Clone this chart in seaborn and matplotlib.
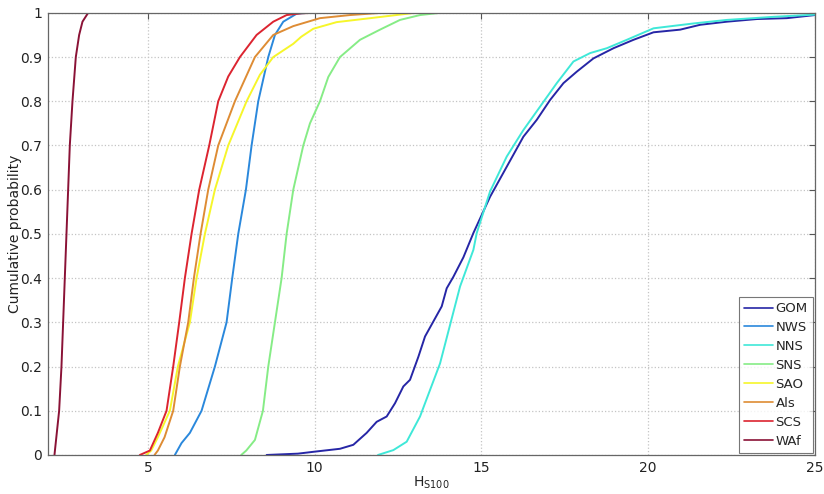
import numpy as np
import pandas as pd
import matplotlib
matplotlib.use("Agg")
import matplotlib.pyplot as plt
import seaborn as sns

regions = ["GOM", "NWS", "NNS", "SNS", "SAO", "Als", "SCS", "WAf"]
colors = ["#2626a6", "#2a88dc", "#3fe8d8", "#86ec86", "#f6f62a", "#de8c34", "#dc2430", "#8a1236"]

gom_x = [8.56, 9.5, 10.0, 10.76, 11.16, 11.56, 11.86, 12.16, 12.41, 12.66, 12.86, 13.11, 13.31, 13.56,
         13.81, 13.96, 14.16, 14.46, 14.76, 15.26, 15.76, 16.26, 16.66, 17.06, 17.46, 17.86, 18.36,
         18.96, 19.56, 20.16, 20.96, 21.56, 22.36, 23.26, 24.16, 25.0]
gom_p = [0, .003, .0075, .014, .023, .05, .075, .087, .117, .155, .17, .222, .268, .302, .336, .377,
         .403, .447, .502, .584, .652, .72, .758, .803, .841, .867, .897, .92, .939, .956, .962, .973,
         .98, .986, .988, .995]

nws_x = [5.81, 6.01, 6.26, 6.61, 7.01, 7.36, 7.53, 7.71, 7.94, 8.11, 8.31, 8.61, 8.81, 9.06, 9.46, 9.8]
nws_p = [0, .027, .05, .1, .2, .3, .4, .5, .6, .7, .8, .9, .95, .98, .998, 1]

nns_x = [11.9, 12.36, 12.76, 13.16, 13.46, 13.76, 14.06, 14.36, 14.76, 14.86, 15.26, 15.76, 16.26,
         16.76, 17.26, 17.76, 18.26, 18.76, 19.36, 20.16, 21.36, 22.36, 23.76, 25.0]
nns_p = [0, .011, .03, .087, .147, .207, .294, .381, .464, .502, .596, .675, .735, .788, .841, .890,
         .909, .920, .939, .965, .976, .984, .991, .996]

sns_x = [7.80, 7.95, 8.21, 8.45, 8.61, 8.81, 9.01, 9.16, 9.36, 9.66, 9.86, 10.16, 10.41, 10.76, 11.36,
         11.96, 12.56, 13.16, 13.76]
sns_p = [0, .01, .034, .1, .2, .3, .4, .5, .6, .7, .75, .8, .855, .9, .939, .962, .984, .995, 1]

sao_x = [4.95, 5.1, 5.3, 5.66, 5.90, 6.26, 6.46, 6.71, 7.01, 7.41, 7.96, 8.36, 8.76, 9.36, 9.6, 9.96,
         10.66, 11.56, 13.0]
sao_p = [0, .01, .04, .1, .2, .3, .4, .5, .6, .7, .8, .86, .9, .93, .946, .964, .979, .987, 1]

als_x = [5.2, 5.3, 5.5, 5.76, 5.96, 6.21, 6.38, 6.58, 6.81, 7.11, 7.61, 8.21, 8.76, 9.36, 10.16, 11.06, 12.0]
als_p = [0, .01, .04, .1, .2, .3, .4, .5, .6, .7, .8, .9, .95, .97, .988, .995, 1]

scs_x = [4.76, 5.06, 5.3, 5.56, 5.76, 5.94, 6.11, 6.31, 6.54, 6.84, 7.11, 7.41, 7.76, 8.26, 8.76, 9.16, 9.6, 10.0]
scs_p = [0, .01, .05, .1, .2, .3, .4, .5, .6, .7, .8, .856, .9, .95, .98, .995, .999, 1]

waf_x = [2.2, 2.34, 2.41, 2.46, 2.51, 2.56, 2.61, 2.66, 2.74, 2.84, 2.94, 3.04, 3.21]
waf_p = [0, .1, .2, .3, .4, .5, .6, .7, .8, .9, .95, .98, 1]

x_ticks = [5, 10, 15, 20, 25]
y_ticks = [0, 0.1, 0.2, 0.3, 0.4, 0.5, 0.6, 0.7, 0.8, 0.9, 1]
y_tick_labels = ["0", "0.1", "0.2", "0.3", "0.4", "0.5", "0.6", "0.7", "0.8", "0.9", "1"]

series = {"GOM": (gom_x, gom_p), "NWS": (nws_x, nws_p), "NNS": (nns_x, nns_p), "SNS": (sns_x, sns_p),
          "SAO": (sao_x, sao_p), "Als": (als_x, als_p), "SCS": (scs_x, scs_p), "WAf": (waf_x, waf_p)}

frames = []
for name in regions:
    xs, ps = series[name]
    frames.append(pd.DataFrame({"H": xs, "P": ps, "Region": name}))
df = pd.concat(frames, ignore_index=True)

sns.set_theme(style="white")
plt.rcParams["font.family"] = ["DejaVu Sans"]

fig = plt.figure(figsize=(8.24, 4.94), dpi=100)
ax = fig.add_axes([0.058, 0.079, 0.931, 0.895])

sns.lineplot(data=df, x="H", y="P", hue="Region", hue_order=regions,
             palette=dict(zip(regions, colors)), sort=False, estimator=None,
             units="Region", linewidth=1.4, ax=ax)

ax.set_xlim(2, 25)
ax.set_ylim(0, 1)
ax.set_xticks(x_ticks)
ax.set_yticks(y_ticks)
ax.set_yticklabels(y_tick_labels)
ax.grid(True, linestyle=":", color="#c4c4c4", linewidth=0.9)
ax.tick_params(direction="in", top=True, right=True, length=4, width=0.8,
               colors="#555555", labelcolor="#222222", labelsize=10, pad=4)
for s in ax.spines.values():
    s.set_color("#666666")
    s.set_linewidth(0.9)

ax.set_xlabel(r"H$_{\mathregular{S100}}$", fontsize=10, color="#222222", labelpad=0)
ax.set_ylabel("Cumulative probability", fontsize=10, color="#222222", labelpad=-1)

leg = ax.legend(loc="lower right", fontsize=9.5, frameon=True, fancybox=False,
                handlelength=2.2, handletextpad=0.2, labelspacing=0.45,
                borderpad=0.4, borderaxespad=0.15, edgecolor="#555555")
leg.get_frame().set_linewidth(0.8)
for lh in leg.get_lines():
    lh.set_linewidth(1.2)

fig.savefig("out.png", dpi=100)
